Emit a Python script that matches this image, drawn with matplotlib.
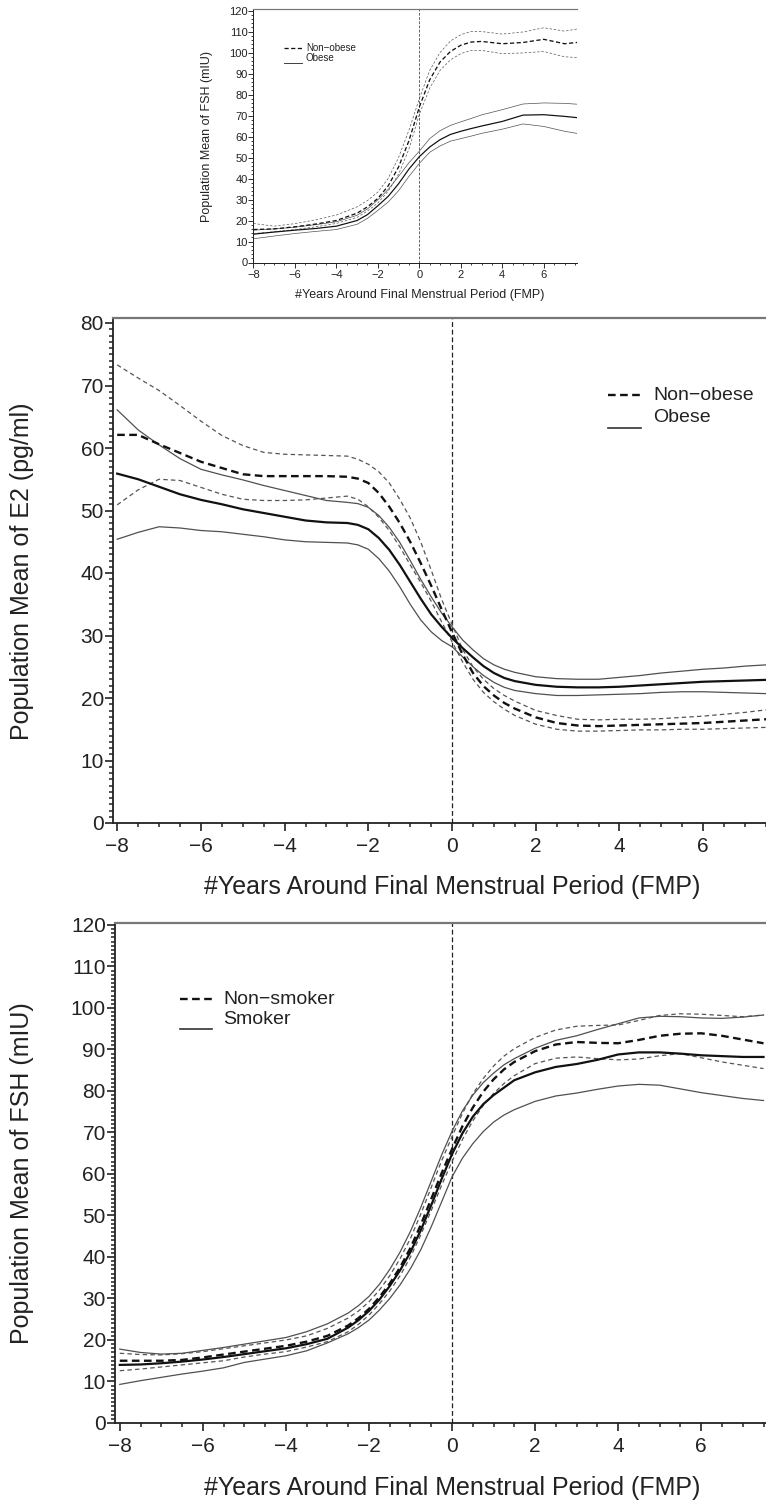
import numpy as np
import matplotlib
matplotlib.use("Agg")
import matplotlib.pyplot as plt
from matplotlib.ticker import MultipleLocator

plt.rcParams['font.family'] = ['Liberation Sans', 'DejaVu Sans']
plt.rcParams['lines.scale_dashes'] = False

W, H = 766, 1507

# ---- panel 1: FSH, non-obese vs obese
yrs_fsh_ob = [-8, -7, -6, -5, -4, -3, -2.5, -2, -1.5, -1, -0.5, 0, 0.5, 1, 1.5, 2, 2.5, 3, 4, 5, 6, 7, 7.6]
fsh_nonob_mean = [15.7, 16.0, 17.0, 18.3, 20.0, 23.5, 26.5, 30.5, 36.5, 45.5, 58.0, 74.0, 87.0, 95.5, 100.5, 103.5, 105.0, 105.3, 104.2, 104.8, 106.3, 104.2, 104.8]
fsh_nonob_hi = [18.6, 17.3, 18.5, 20.3, 22.6, 26.5, 29.5, 33.5, 40.0, 50.0, 63.0, 78.0, 91.5, 100.0, 105.5, 108.5, 110.0, 110.0, 108.8, 109.8, 111.8, 110.2, 111.2]
fsh_nonob_lo = [13.8, 14.6, 15.7, 17.0, 18.6, 21.5, 24.5, 28.3, 34.0, 42.0, 54.0, 70.5, 83.0, 91.5, 96.5, 99.5, 101.0, 101.0, 99.5, 99.8, 100.5, 98.0, 97.6]
fsh_ob_mean = [13.5, 14.5, 15.4, 16.2, 17.3, 20.0, 22.8, 27.0, 31.5, 37.5, 44.5, 50.4, 55.0, 58.5, 61.0, 62.5, 63.8, 65.0, 67.2, 70.2, 70.4, 69.6, 69.0]
fsh_ob_hi = [15.4, 16.0, 16.8, 18.0, 19.4, 22.5, 25.5, 29.8, 34.8, 41.0, 47.5, 53.0, 59.0, 62.8, 65.3, 67.0, 68.6, 70.3, 72.8, 75.5, 76.0, 75.8, 75.4]
fsh_ob_lo = [11.3, 12.6, 13.8, 14.8, 15.7, 18.2, 21.0, 24.8, 28.8, 34.2, 41.0, 47.2, 52.5, 55.5, 57.8, 59.0, 60.2, 61.5, 63.5, 66.0, 64.8, 62.5, 61.5]

# ---- panel 2: E2, non-obese vs obese
yrs_e2 = [-8, -7.5, -7, -6.5, -6, -5.5, -5, -4.5, -4, -3.5, -3, -2.5,
          -2.25, -2, -1.75, -1.5, -1.25, -1, -0.75, -0.5, -0.25, 0, 0.25, 0.5, 0.75, 1, 1.25, 1.5,
          2, 2.5, 3, 3.5, 4, 4.5, 5, 5.5, 6, 6.5, 7, 7.5]
e2_nonob_mean = [62.1, 62.1, 60.6, 59.2, 57.8, 56.8, 55.8, 55.5, 55.5, 55.5, 55.5, 55.4,
                 55.1, 54.4, 52.8, 50.6, 48.0, 45.0, 41.6, 38.0, 34.2, 30.5, 27.0, 24.0, 21.9, 20.4, 19.2, 18.3,
                 16.9, 16.0, 15.6, 15.5, 15.6, 15.7, 15.8, 15.9, 16.0, 16.2, 16.4, 16.6]
e2_nonob_hi = [73.3, 71.2, 69.2, 66.8, 64.3, 62.0, 60.4, 59.3, 59.0, 58.9, 58.8, 58.7,
               58.2, 57.4, 56.2, 54.4, 51.8, 48.8, 45.0, 40.5, 35.8, 31.8, 27.8, 25.0, 23.0, 21.5, 20.4, 19.5,
               18.0, 17.2, 16.6, 16.5, 16.6, 16.6, 16.7, 16.9, 17.1, 17.4, 17.7, 18.1]
e2_nonob_lo = [50.9, 53.3, 55.0, 54.8, 53.7, 52.6, 51.8, 51.6, 51.6, 51.7, 52.0, 52.3,
               51.8, 50.6, 48.9, 46.8, 44.2, 41.3, 38.5, 35.5, 32.2, 29.0, 25.8, 23.0, 20.9, 19.4, 18.2, 17.2,
               15.8, 15.0, 14.7, 14.7, 14.8, 14.9, 14.9, 15.0, 15.0, 15.1, 15.2, 15.3]
e2_ob_mean = [55.9, 55.0, 53.8, 52.6, 51.7, 51.0, 50.2, 49.6, 49.0, 48.4, 48.1, 48.0,
              47.7, 47.0, 45.6, 43.7, 41.3, 38.6, 35.9, 33.4, 31.4, 29.6, 28.0, 26.5, 25.1, 24.0, 23.2, 22.7,
              22.1, 21.8, 21.7, 21.7, 21.8, 22.0, 22.2, 22.4, 22.6, 22.7, 22.8, 22.9]
e2_ob_hi = [66.1, 62.9, 60.5, 58.3, 56.6, 55.7, 54.9, 54.0, 53.2, 52.4, 51.6, 51.3,
            51.1, 50.5, 49.2, 47.3, 44.9, 42.0, 39.0, 36.2, 33.6, 31.4, 29.3, 27.7, 26.3, 25.3, 24.6, 24.1,
            23.4, 23.1, 23.0, 23.0, 23.3, 23.6, 24.0, 24.3, 24.6, 24.8, 25.1, 25.3]
e2_ob_lo = [45.4, 46.5, 47.4, 47.2, 46.8, 46.6, 46.2, 45.8, 45.3, 45.0, 44.9, 44.8,
            44.5, 43.8, 42.3, 40.3, 37.8, 35.0, 32.5, 30.6, 29.2, 28.2, 26.6, 25.0, 23.6, 22.5, 21.7, 21.2,
            20.7, 20.4, 20.4, 20.5, 20.6, 20.7, 20.9, 21.0, 21.0, 20.9, 20.8, 20.7]

# ---- panel 3: FSH, non-smoker vs smoker
yrs_fsh_sm = yrs_e2
fsh_ns_mean = [15.0, 15.0, 15.0, 15.2, 15.8, 16.5, 17.2, 17.9, 18.6, 19.6, 21.0, 23.5,
               25.3, 27.5, 30.3, 33.6, 37.5, 42.2, 47.8, 54.0, 60.2, 66.0, 71.5, 76.0, 79.8, 82.8, 85.2, 87.0,
               89.6, 91.2, 91.8, 91.6, 91.5, 92.3, 93.3, 93.8, 93.9, 93.3, 92.4, 91.5]
fsh_ns_hi = [16.8, 16.5, 16.4, 16.7, 17.2, 17.9, 18.6, 19.3, 20.0, 21.0, 22.8, 25.3,
             27.0, 29.2, 32.0, 35.5, 39.6, 44.5, 50.4, 56.8, 63.2, 69.0, 74.6, 79.3, 83.0, 86.0, 88.4, 90.2,
             92.9, 94.7, 95.6, 95.8, 95.9, 97.0, 98.2, 98.6, 98.5, 98.2, 97.9, 98.3]
fsh_ns_lo = [12.6, 13.0, 13.5, 14.0, 14.5, 15.0, 15.9, 16.6, 17.2, 18.3, 19.6, 22.0,
             23.8, 26.0, 28.7, 31.8, 35.5, 40.0, 45.4, 51.2, 57.3, 63.0, 68.3, 72.8, 76.5, 79.4, 81.8, 83.7,
             86.6, 87.9, 88.2, 87.8, 87.5, 87.7, 88.5, 89.0, 88.0, 87.0, 86.2, 85.4]
fsh_s_mean = [14.0, 14.1, 14.4, 14.8, 15.3, 15.9, 16.6, 17.3, 18.0, 19.0, 20.3, 23.0,
              24.8, 27.0, 29.7, 33.0, 36.8, 41.2, 46.5, 52.5, 58.8, 64.8, 69.8, 73.8, 76.8, 79.0, 80.8, 82.6,
              84.5, 85.8, 86.5, 87.5, 88.8, 89.3, 89.3, 89.0, 88.6, 88.4, 88.2, 88.2]
fsh_s_hi = [17.8, 17.0, 16.6, 16.8, 17.5, 18.2, 19.0, 19.8, 20.6, 22.0, 23.9, 26.5,
            28.3, 30.5, 33.4, 37.0, 41.2, 46.2, 52.0, 58.3, 64.6, 70.3, 75.2, 79.0, 82.0, 84.3, 86.3, 87.8,
            90.3, 92.2, 93.3, 94.8, 96.2, 97.6, 98.0, 97.9, 97.6, 97.5, 97.8, 98.3]
fsh_s_lo = [9.3, 10.2, 11.0, 11.8, 12.5, 13.3, 14.6, 15.4, 16.2, 17.4, 19.3, 21.5,
            23.0, 24.8, 27.2, 30.0, 33.3, 37.2, 41.8, 47.3, 53.3, 59.3, 63.8, 67.3, 70.2, 72.5, 74.2, 75.5,
            77.5, 78.8, 79.5, 80.4, 81.2, 81.6, 81.4, 80.5, 79.6, 78.9, 78.2, 77.7]

XLAB = "#Years Around Final Menstrual Period (FMP)"

fig = plt.figure(figsize=(W / 100, H / 100), dpi=100)


def box(l, t, r, b):
    # pixel box -> figure fraction
    return [l / W, 1 - b / H, (r - l) / W, (b - t) / H]


def draw(ax, x, m1, hi1, lo1, m2, hi2, lo2, s):
    ci_d = dict(color="#555555", lw=0.9 * s, dashes=(3.2 * s, 2.3 * s))
    ci_s = dict(color="#505050", lw=0.9 * s)
    ax.plot(x, hi1, **ci_d)
    ax.plot(x, lo1, **ci_d)
    ax.plot(x, hi2, **ci_s)
    ax.plot(x, lo2, **ci_s)
    ax.plot(x, m1, color="#111111", lw=1.7 * s, dashes=(5.5 * s, 3.2 * s))
    ax.plot(x, m2, color="#111111", lw=1.6 * s)
    ax.axvline(0, color="#222222", lw=0.9 * s, dashes=(3.5 * s, 2.0 * s), zorder=0)


def style(ax, xlim, ylim, ymaj, ymin, s, fs):
    ax.set_xlim(*xlim)
    ax.set_ylim(*ylim)
    ax.xaxis.set_major_locator(MultipleLocator(2))
    ax.xaxis.set_minor_locator(MultipleLocator(0.5))
    ax.yaxis.set_major_locator(MultipleLocator(ymaj))
    ax.yaxis.set_minor_locator(MultipleLocator(ymin))
    ax.spines["right"].set_visible(False)
    ax.spines["top"].set_color("#777777")
    ax.spines["top"].set_linewidth(1.6 * s)
    for sp in ("left", "bottom"):
        ax.spines[sp].set_color("#222222")
        ax.spines[sp].set_linewidth(1.3 * s)
    ax.tick_params(axis="both", which="major", direction="out", length=6 * s, width=1.2 * s,
                   labelsize=fs, colors="#222222", labelcolor="#222222")
    ax.tick_params(axis="both", which="minor", direction="out", length=3 * s, width=1.1 * s, colors="#222222")
    ax.tick_params(axis="y", which="major", pad=0.5 * s)
    ax.tick_params(axis="x", which="major", pad=4 * s)


def legend(ax, x0, x1, xt, y_dash, y_t2, y_solid, lab1, lab2, s, fs):
    tr = ax.transAxes
    ax.plot([x0, x1], [y_dash, y_dash], transform=tr, color="#111111", lw=1.7 * s,
            dashes=(5.5 * s, 3.2 * s), clip_on=False)
    ax.plot([x0, x1], [y_solid, y_solid], transform=tr, color="#333333", lw=1.2 * s, clip_on=False)
    ax.text(xt, y_dash, lab1, transform=tr, ha="left", va="center", fontsize=fs, color="#222222")
    ax.text(xt, y_t2, lab2, transform=tr, ha="left", va="center", fontsize=fs, color="#222222")


def fx(px, l, r):
    return (px - l) / (r - l)


def fy(py, t, b):
    return (b - py) / (b - t)


# top panel
ax1 = fig.add_axes(box(252.7, 9.3, 577, 262.5))
draw(ax1, yrs_fsh_ob, fsh_nonob_mean, fsh_nonob_hi, fsh_nonob_lo, fsh_ob_mean, fsh_ob_hi, fsh_ob_lo, 0.55)
style(ax1, (-8.03, 7.6), (0, 120.6), 10, 2, 0.55, 8)
legend(ax1, fx(284, 252.7, 577), fx(302, 252.7, 577), fx(306, 252.7, 577),
       fy(48, 9.3, 262.5), fy(58, 9.3, 262.5), fy(63, 9.3, 262.5), "Non\u2212obese", "Obese", 0.55, 7)
fig.text(420 / W, 1 - 295 / H, XLAB, ha="center", va="center", fontsize=9, color="#222222")
fig.text(207 / W, 1 - 136 / H, "Population Mean of FSH (mIU)", rotation=90, ha="center", va="center",
         fontsize=9, color="#222222")

# middle panel
ax2 = fig.add_axes(box(113, 318, 766, 823))
draw(ax2, yrs_e2, e2_nonob_mean, e2_nonob_hi, e2_nonob_lo, e2_ob_mean, e2_ob_hi, e2_ob_lo, 1.0)
style(ax2, (-8.1, 7.5), (0, 80.8), 10, 1, 1.0, 15)
legend(ax2, fx(608, 113, 766), fx(641, 113, 766), fx(653, 113, 766),
       fy(395, 318, 823), fy(417, 318, 823), fy(428, 318, 823), "Non\u2212obese", "Obese", 1.0, 14)
fig.text(452 / W, 1 - 887 / H, XLAB, ha="center", va="center", fontsize=18, color="#222222")
fig.text(22 / W, 1 - 571 / H, "Population Mean of E2 (pg/ml)", rotation=90, ha="center", va="center",
         fontsize=18, color="#222222")

# bottom panel
ax3 = fig.add_axes(box(114.8, 922.7, 766, 1423))
draw(ax3, yrs_fsh_sm, fsh_ns_mean, fsh_ns_hi, fsh_ns_lo, fsh_s_mean, fsh_s_hi, fsh_s_lo, 1.0)
style(ax3, (-8.12, 7.56), (0, 120.55), 10, 1, 1.0, 15)
legend(ax3, fx(180, 114.8, 766), fx(212, 114.8, 766), fx(223, 114.8, 766),
       fy(999, 922.7, 1423), fy(1020, 922.7, 1423), fy(1029, 922.7, 1423), "Non\u2212smoker", "Smoker", 1.0, 14)
fig.text(452 / W, 1 - 1488 / H, XLAB, ha="center", va="center", fontsize=18, color="#222222")
fig.text(22 / W, 1 - 1173 / H, "Population Mean of FSH (mIU)", rotation=90, ha="center", va="center",
         fontsize=18, color="#222222")

fig.savefig("out.png", dpi=100)
